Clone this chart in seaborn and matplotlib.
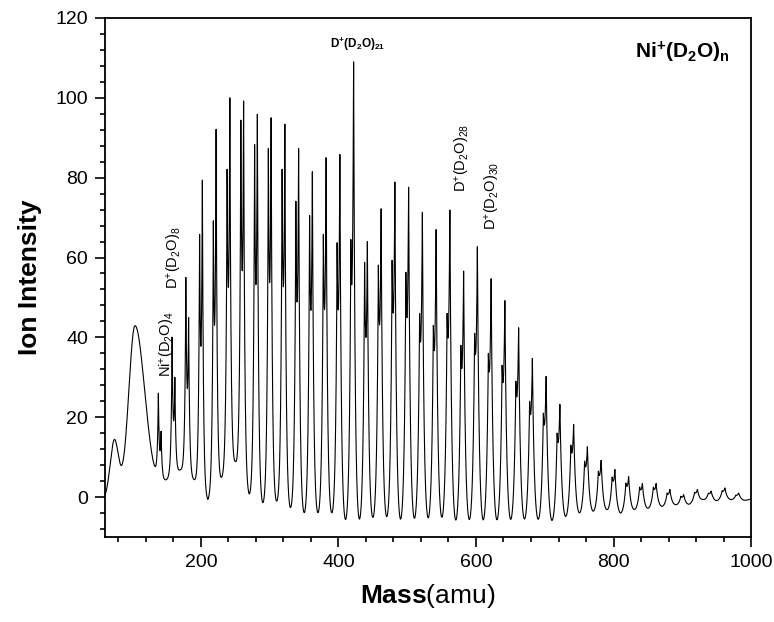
import numpy as np
import pandas as pd
import seaborn as sns
import matplotlib.pyplot as plt
from matplotlib.ticker import MultipleLocator

# D+(D2O)n cluster peaks (amu) and their read-off heights
d_mass = [142, 162, 182, 202, 222, 242, 262, 282, 302, 322, 342, 362, 382, 402,
          422, 442, 462, 482, 502, 522, 542, 562, 582, 602, 622, 642, 662, 682,
          702, 722, 742, 762, 782, 802, 822, 842, 862, 882, 902, 922, 942, 962, 982]
d_height = [16.5, 30, 45, 79.4, 92.1, 100.0, 99.2, 95.9, 95.0, 93.4, 87.3, 81.5, 85.0, 85.8,
            109, 64.0, 72.2, 78.9, 77.6, 71.3, 67.0, 71.9, 56.6, 62.7, 54.7, 49.2, 42.4, 34.7,
            30.2, 23.2, 18.2, 12.6, 9.2, 6.9, 5.1, 3.4, 3.4, 1.9, 0.6, 1.9, 1.5, 2.3, 1.0]

# Ni+(D2O)n cluster peaks, sitting 4 amu below the D+ peaks
ni_mass = [138, 158, 178, 198, 218, 238, 258, 278, 298, 318, 338, 358, 378, 398,
           418, 438, 458, 478, 498, 518, 538, 558, 578, 598, 618, 638, 658, 678,
           698, 718, 738, 758, 778, 798, 818, 838, 858, 878, 898, 918, 938, 958, 978]
ni_height = [26, 40, 55, 65.8, 69.2, 82.1, 94.4, 88.3, 87.3, 82.1, 74.1, 70.5, 65.8, 63.7,
             64.5, 58.8, 58.1, 59.3, 56.3, 46, 43, 46, 38, 41, 36, 33, 29, 24,
             21, 16, 13, 9, 6.5, 5, 3.5, 2.5, 2.5, 1, 0.2, 1.2, 1, 1.6, 0.5]

# level of the troughs between the clusters
trough_mass = [60, 87, 130, 150, 170, 190, 210, 230, 250, 270, 290, 310, 330, 350, 370,
               390, 410, 430, 450, 470, 490, 510, 530, 550, 570, 590, 610, 630, 650, 670,
               690, 710, 730, 750, 770, 790, 810, 830, 850, 870, 890, 910, 930, 950, 970,
               990, 1000]
trough_level = [0.3, 9.4, 9.4, 4.4, 6.9, 4.4, -0.6, 5, 9, 0.8, -1.4, -1.0, -2.6, -3.9, -3.9,
                -3.9, -5.6, -5.4, -5.1, -4.9, -5.5, -5.2, -5.1, -5.0, -5.6, -5.6, -5.6, -5.6, -5.5, -5.4,
                -5.5, -5.8, -4.8, -3.9, -3.5, -3.1, -4.0, -3.1, -2.8, -2.3, -1.9, -1.8, -0.6, -0.9, -0.6,
                -0.8, -0.5]

# broad low-mass humps (centre, height)
hump_center = [74, 104]
hump_height = [14, 41.5]


def humps(m):
    out = hump_height[0] * np.exp(-(m - hump_center[0]) ** 2 / (2 * 6.0 ** 2))
    s = np.where(m < hump_center[1], 9.0, 14.0)
    out = out + hump_height[1] * np.exp(-(m - hump_center[1]) ** 2 / (2 * s ** 2))
    return out


def profile(m, c, w):
    return np.exp(-np.abs(m - c) / w)


def knots(m):
    # piecewise-linear baseline basis, one column per trough knot
    eye = np.eye(len(trough_mass))
    return np.stack([np.interp(m, trough_mass, eye[i]) for i in range(len(trough_mass))], axis=-1)


# peaks are sharp cusps that broaden with mass; solve peak amplitudes and
# baseline knots together so peak tops and trough bottoms hit the read values
centers = np.array(d_mass + ni_mass, dtype=float)
heights = np.array(d_height + ni_height, dtype=float)
widths = 1.0 + 0.0028 * centers
tm = np.array(trough_mass, dtype=float)

rows_p = np.hstack([profile(centers[:, None], centers[None, :], widths[None, :]), knots(centers)])
rows_t = np.hstack([profile(tm[:, None], centers[None, :], widths[None, :]), knots(tm)])
mat = np.vstack([rows_p, rows_t])
rhs = np.concatenate([heights - humps(centers), np.array(trough_level) - humps(tm)])
sol = np.linalg.solve(mat, rhs)
amps, base = sol[:len(centers)], sol[len(centers):]

mass = np.arange(60, 1000.001, 0.1)
intensity = np.interp(mass, trough_mass, base) + humps(mass)
for a, c, w in zip(amps, centers, widths):
    intensity += a * profile(mass, c, w)

df = pd.DataFrame({'mass': mass, 'intensity': intensity})

sns.set_style('ticks')
plt.rcParams['font.family'] = ['Liberation Sans', 'DejaVu Sans']
plt.rcParams['text.color'] = 'black'
plt.rcParams['axes.labelcolor'] = 'black'
plt.rcParams['mathtext.fontset'] = 'custom'
plt.rcParams['mathtext.rm'] = 'Liberation Sans'
plt.rcParams['mathtext.it'] = 'Liberation Sans:italic'
plt.rcParams['mathtext.bf'] = 'Liberation Sans:bold'

fig = plt.figure(figsize=(7.74, 6.22), dpi=100)
ax = fig.add_axes([0.1353, 0.1367, 0.8350, 0.8344])

sns.lineplot(data=df, x='mass', y='intensity', color='black', linewidth=0.8,
             estimator=None, ax=ax)

ax.set_xlim(60, 1000)
ax.set_ylim(-10, 120)
ax.xaxis.set_major_locator(MultipleLocator(200))
ax.xaxis.set_minor_locator(MultipleLocator(40))
ax.yaxis.set_major_locator(MultipleLocator(20))
ax.yaxis.set_minor_locator(MultipleLocator(4))
ax.tick_params(which='major', direction='out', length=7, width=1.2, labelsize=14, pad=5,
               colors='black')
ax.tick_params(which='minor', direction='out', length=3.5, width=1.2, colors='black')
for sp in ax.spines.values():
    sp.set_linewidth(1.3)
    sp.set_color('black')

ax.set_xlabel(r'$\mathbf{Mass}$(amu)', fontsize=19, labelpad=8)
ax.set_ylabel('Ion Intensity', fontsize=19, fontweight='bold', labelpad=10)

# annotations
ax.text(0.966, 0.923, r'$\mathbf{Ni^{+}(D_{2}O)_{n}}$', transform=ax.transAxes,
        ha='right', va='baseline', fontsize=15)
ax.text(428, 113.4, r'$\mathbf{D^{+}(D_{2}O)_{21}}$', ha='center', va='center', fontsize=8.5)
ax.text(150.6, 30, r'$\mathrm{Ni^{+}(D_{2}O)_{4}}$', rotation=90, ha='center', va='bottom',
        fontsize=10.5)
ax.text(160.8, 52, r'$\mathrm{D^{+}(D_{2}O)_{8}}$', rotation=90, ha='center', va='bottom',
        fontsize=10.5)
ax.text(579.7, 76.3, r'$\mathrm{D^{+}(D_{2}O)_{28}}$', rotation=90, ha='center', va='bottom',
        fontsize=10.5)
ax.text(623.3, 67, r'$\mathrm{D^{+}(D_{2}O)_{30}}$', rotation=90, ha='center', va='bottom',
        fontsize=10.5)

fig.savefig('out.png', dpi=100)
